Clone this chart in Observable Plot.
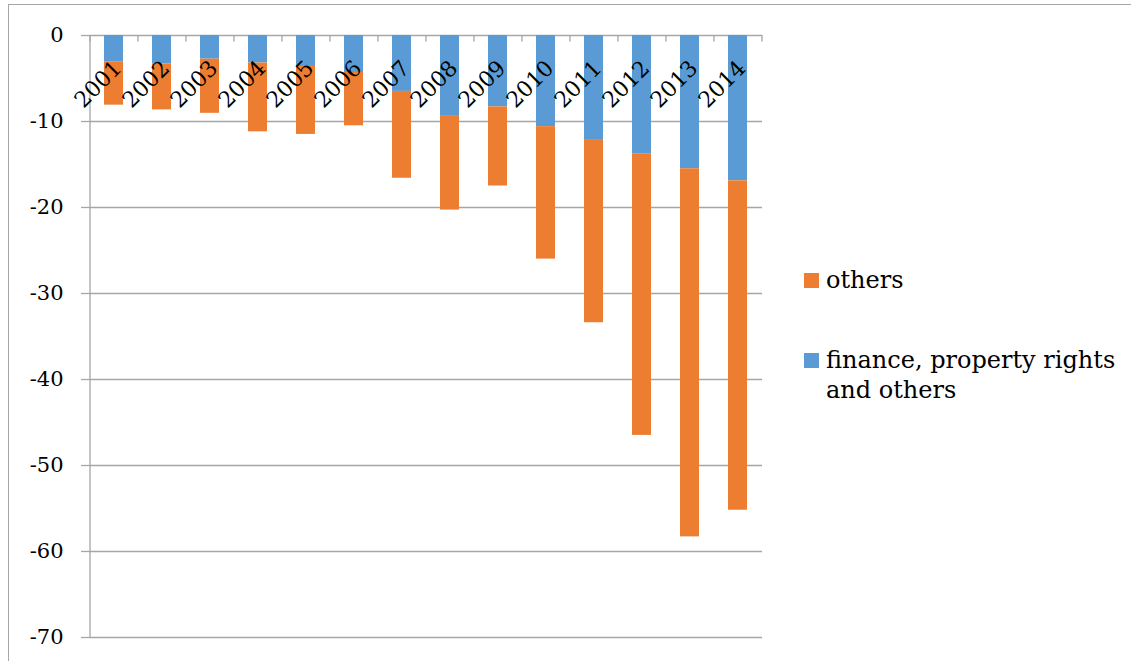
<!DOCTYPE html>
<html><head><meta charset="utf-8">
<script src="https://cdn.jsdelivr.net/npm/d3@7"></script>
<script src="https://cdn.jsdelivr.net/npm/@observablehq/plot@0.6"></script>
<style>
html,body{margin:0;padding:0;background:#fff}
#wrap{position:relative;width:1131px;height:663px;overflow:hidden;font-family:"DejaVu Serif",serif;color:#000}
#chart{position:absolute;left:0;top:0}
.fl{position:absolute;background:#a6a6a6}
.leg{position:absolute;left:804px;font-size:24px;line-height:30px}
.leg .sw{position:absolute;left:0;width:15px;height:15px}
.leg .tx{position:absolute;left:22px;white-space:nowrap}
</style></head>
<body>
<div id="wrap">
  <div id="chart"></div>
  <div class="fl" style="left:8px;top:4px;width:1123px;height:1.3px"></div>
  <div class="fl" style="left:8px;top:4px;width:1.3px;height:657px"></div>
  <div id="legend"></div>
</div>
<script>
const years = ["2001","2002","2003","2004","2005","2006","2007","2008","2009","2010","2011","2012","2013","2014"];
const financeValues = [-3.1,-3.3,-2.75,-3.2,-3.6,-4.3,-6.5,-9.4,-8.3,-10.6,-12.1,-13.8,-15.5,-16.9];
const othersValues = [-5.0,-5.35,-6.3,-8.0,-7.9,-6.2,-10.1,-10.9,-9.2,-15.4,-21.3,-32.7,-42.8,-38.3];
const seriesNames = ["finance, property rights and others", "others"];
const seriesColors = ["#5B9BD5", "#ED7D31"];
const yTicks = [0,-10,-20,-30,-40,-50,-60,-70];

const rows = [];
years.forEach((y, i) => {
  rows.push({year: y, series: seriesNames[0], value: financeValues[i]});
  rows.push({year: y, series: seriesNames[1], value: othersValues[i]});
});

const grid = "#a6a6a6";
const chart = Plot.plot({
  width: 1131, height: 663,
  marginLeft: 90, marginRight: 369, marginTop: 35, marginBottom: 26,
  style: {fontFamily: "DejaVu Serif", fontSize: "20px", background: "transparent", overflow: "visible"},
  x: {domain: years, paddingInner: 0.6, paddingOuter: 0.3, axis: null},
  y: {domain: [-70, 0], axis: null},
  color: {domain: seriesNames, range: seriesColors},
  marks: [
    Plot.gridY(yTicks, {stroke: grid, strokeOpacity: 1, strokeWidth: 1.3}),
    Plot.barY(rows, {x: "year", y: "value", fill: "series", order: seriesNames}),
    Plot.ruleX([years[0]], {y1: -70, y2: 0, dx: -24, stroke: grid, strokeWidth: 1.3}),
    Plot.ruleX(years, {y1: 0, y2: -0.75, dx: -24, stroke: grid, strokeWidth: 1.3}),
    Plot.ruleX([years[years.length - 1]], {y1: 0, y2: -0.75, dx: 24, stroke: grid, strokeWidth: 1.3}),
    Plot.axisY(yTicks, {tickSize: 9, tickPadding: 18, stroke: grid, strokeWidth: 1.3, fill: "#000", fontSize: 21, label: null, tickFormat: d => String(d)}),
    Plot.text(years, {x: d => d, y: 0, text: d => d, rotate: -45, textAnchor: "end", dx: 4, dy: 29, fontSize: 22, fill: "#000"})
  ]
});
document.getElementById("chart").appendChild(chart);

const legend = document.getElementById("legend");
const legItems = [
  {name: seriesNames[1], color: seriesColors[1], top: 265, lines: ["others"]},
  {name: seriesNames[0], color: seriesColors[0], top: 345, lines: ["finance, property rights", "and others"]}
];
legItems.forEach(it => {
  const d = document.createElement("div");
  d.className = "leg";
  d.style.top = it.top + "px";
  d.innerHTML = `<div class="sw" style="background:${it.color};top:8px"></div><div class="tx">${it.lines.join("<br>")}</div>`;
  legend.appendChild(d);
});
</script>
</body></html>
